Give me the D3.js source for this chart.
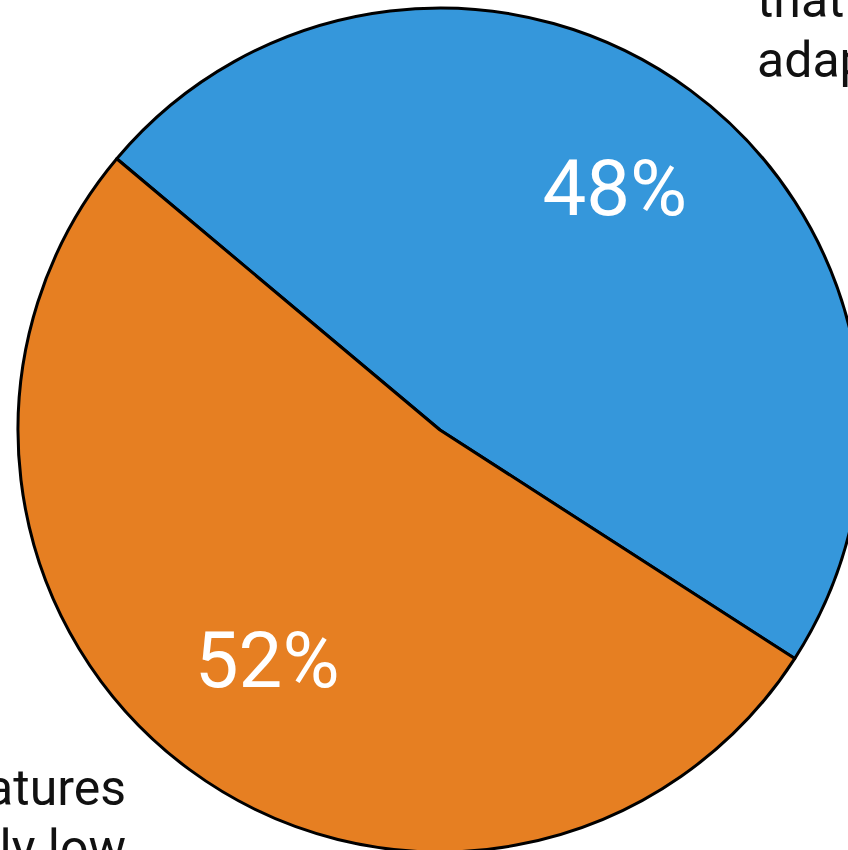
<!DOCTYPE html>
<html><head><meta charset="utf-8">
<script src="https://cdn.jsdelivr.net/npm/d3@7"></script>
<style>html,body{margin:0;padding:0;background:#fff;overflow:hidden}</style>
</head><body>
<svg id="c" width="848" height="850"></svg>
<script>
const categories = ["Blue", "Orange"];
const values = [48, 52];
const valueLabels = ["48%", "52%"];
const colors = ["#3597db", "#e67f22"];
const sideLabels = [
  ["Share of responses", "that", "adapted"],
  ["temperatures", "relatively low"]
];

const svg = d3.select("#c");
const cx = 440, cy = 430, r = 422;
const start = 310 * Math.PI / 180;
const pie = d3.pie().sort(null).startAngle(start).endAngle(start + 2 * Math.PI);
const arcs = pie(values);
const arc = d3.arc().innerRadius(0).outerRadius(r);
const labelArc = d3.arc().innerRadius(298).outerRadius(298);
const labelShift = [[-2, -3], [4, -11]];

const g = svg.append("g").attr("transform", `translate(${cx},${cy})`);
g.selectAll("path").data(arcs).join("path")
  .attr("d", arc)
  .attr("fill", (d, i) => colors[i])
  .attr("stroke", "#000")
  .attr("stroke-width", 3)
  .attr("stroke-linejoin", "round");

g.selectAll("text.v").data(arcs).join("text")
  .attr("class", "v")
  .attr("transform", (d, i) => { const c = labelArc.centroid(d); return `translate(${c[0] + labelShift[i][0]},${c[1] + labelShift[i][1]})`; })
  .attr("text-anchor", "middle")
  .attr("dy", "0.36em")
  .attr("fill", "#fff")
  .style("font-family", "Roboto, 'Open Sans', sans-serif")
  .style("font-size", "78px")
  .text((d, i) => valueLabels[i]);

// outer labels (mostly cropped by the frame, as in the reference)
const font = "Roboto, 'Open Sans', sans-serif";
const t1 = svg.append("text").attr("x", 757).attr("y", 17)
  .style("font-family", font).style("font-size", "50px").attr("fill", "#111");
sideLabels[0].forEach((s, i) => t1.append("tspan").attr("x", 757)
  .attr("dy", i === 0 ? -60 : 60).text(s));
const t2 = svg.append("text").attr("x", 126).attr("y", 805)
  .attr("text-anchor", "end")
  .style("font-family", font).style("font-size", "50px").attr("fill", "#111");
sideLabels[1].forEach((s, i) => t2.append("tspan").attr("x", 126)
  .attr("dy", i === 0 ? 0 : 60).text(s));
</script>
</body></html>
